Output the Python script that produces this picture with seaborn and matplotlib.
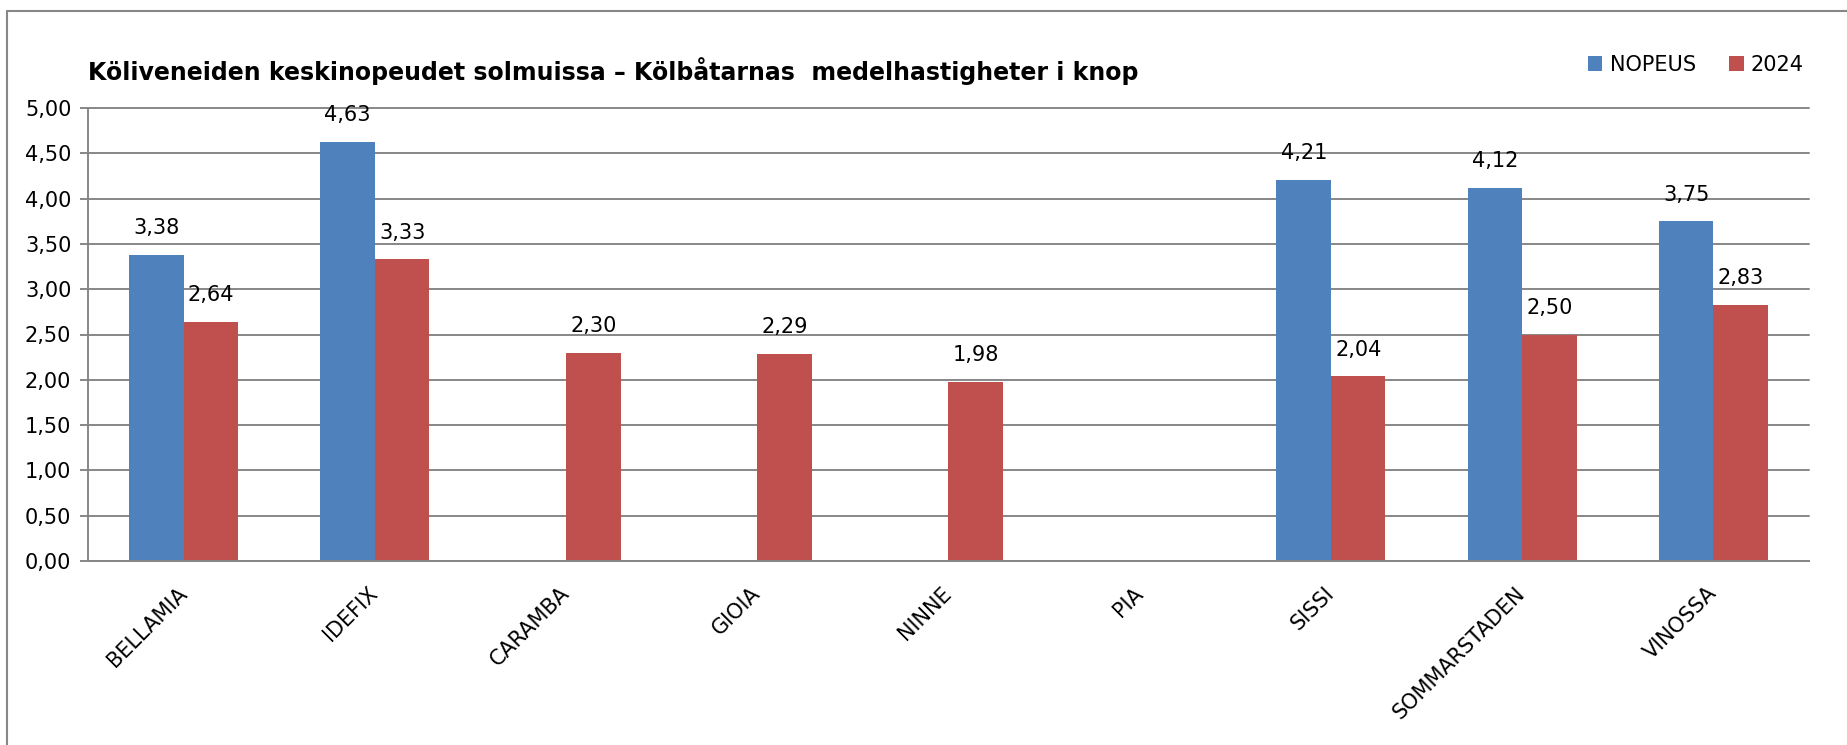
import numpy as np
import pandas as pd
import seaborn as sns
import matplotlib.pyplot as plt
from matplotlib.lines import Line2D

boats = ['BELLAMIA', 'IDEFIX', 'CARAMBA', 'GIOIA', 'NINNE', 'PIA', 'SISSI', 'SOMMARSTADEN', 'VINOSSA']
nopeus = [3.38, 4.63, np.nan, np.nan, np.nan, np.nan, 4.21, 4.12, 3.75]
year_2024 = [2.64, 3.33, 2.30, 2.29, 1.98, np.nan, 2.04, 2.50, 2.83]
series = ['NOPEUS', '2024']
colors = ['#4F81BD', '#C0504D']
yticks = [0, 0.5, 1, 1.5, 2, 2.5, 3, 3.5, 4, 4.5, 5]
title = 'Köliveneiden keskinopeudet solmuissa – Kölbåtarnas  medelhastigheter i knop'

df = pd.DataFrame({'boat': boats * 2,
                   'series': [series[0]] * len(boats) + [series[1]] * len(boats),
                   'value': nopeus + year_2024})

sns.set_style('white')
plt.rcParams['font.family'] = ['DejaVu Sans']
plt.rcParams['text.color'] = 'black'
plt.rcParams['xtick.color'] = 'black'
plt.rcParams['ytick.color'] = 'black'
grid_col = '#878787'
fs = 15

fig = plt.figure(figsize=(18.47, 7.45), dpi=100)
ax = fig.add_axes([88 / 1847, 1 - 561 / 745, (1809 - 88) / 1847, (561 - 108) / 745])

sns.barplot(data=df, x='boat', y='value', hue='series', order=boats, hue_order=series,
            palette=colors, saturation=1, width=0.57, errorbar=None, linewidth=0, ax=ax)

for cont in ax.containers:
    ax.bar_label(cont, fmt=lambda v: f'{v:.2f}'.replace('.', ','), padding=12, fontsize=fs, color='black')

ax.set_xlim(-0.5, len(boats) - 0.5)
ax.set_ylim(0, 5)
ax.set_yticks(yticks)
ax.set_yticklabels([f'{t:.2f}'.replace('.', ',') for t in yticks], fontsize=fs)
ax.yaxis.grid(True, color=grid_col, linewidth=1.4)
for gl in ax.get_ygridlines():
    gl.set_clip_on(False)
ax.set_axisbelow(True)
ax.set_xlabel('')
ax.set_ylabel('')

ax.set_xticks(np.arange(len(boats)))
ax.set_xticklabels(boats, rotation=45, ha='right', va='center', rotation_mode='anchor', fontsize=fs)
ax.set_xticks(np.arange(len(boats) + 1) - 0.5, minor=True)
ax.tick_params(axis='x', which='major', length=0, pad=21)
ax.tick_params(axis='x', which='minor', length=6, width=1.4, color=grid_col, direction='out')
ax.tick_params(axis='y', length=6, width=1.4, color=grid_col, labelcolor='black', direction='out', pad=6, left=True)

for s in ['top', 'right']:
    ax.spines[s].set_visible(False)
for s in ['left', 'bottom']:
    ax.spines[s].set_color(grid_col)
    ax.spines[s].set_linewidth(1.4)

handles, labels = ax.get_legend_handles_labels()
ax.legend(handles, labels, loc='center right', bbox_to_anchor=(1804 / 1847, 1 - 65 / 745),
          bbox_transform=fig.transFigure, ncol=2, frameon=False, fontsize=fs,
          handlelength=0.7, handleheight=0.7, handletextpad=0.35, columnspacing=1.6,
          borderaxespad=0, borderpad=0)

fig.text(88 / 1847, 1 - 71 / 745, title, fontsize=17, fontweight='bold', va='center', ha='left')

# outer chart frame (left and top edges are visible)
fig.add_artist(Line2D([7 / 1847, 7 / 1847], [0, 1 - 11 / 745], transform=fig.transFigure, color=grid_col, linewidth=1.5))
fig.add_artist(Line2D([7 / 1847, 1], [1 - 11 / 745, 1 - 11 / 745], transform=fig.transFigure, color=grid_col, linewidth=1.5))

fig.savefig('out.png', dpi=100)
